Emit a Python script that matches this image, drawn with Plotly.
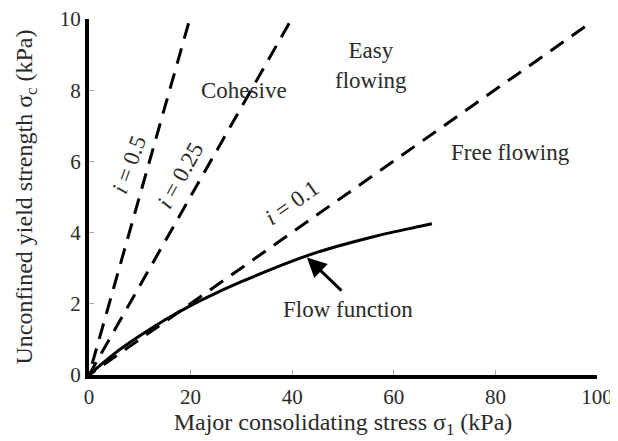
import plotly.graph_objects as go

# Flow function (solid curve)
ff_x = [0, 5, 10, 15, 20, 25, 30, 35, 40, 45, 50, 55, 60, 65, 67.5]
ff_y = [0, 0.6, 1.1, 1.55, 1.95, 2.3, 2.62, 2.92, 3.2, 3.45, 3.66, 3.85, 4.02, 4.17, 4.25]

# Flow-factor lines (dashed), drawn from the top end down to the origin
line_names = ["i = 0.5", "i = 0.25", "i = 0.1"]
line_x_end = [19.6, 39.4, 97.6]
line_y_end = [9.88, 9.88, 9.78]

# Region labels
region_text = ["Cohesive", "Easy<br>flowing", "Free flowing", "Flow function"]
region_x = [30.5, 55.5, 83, 51]
region_y = [8.0, 8.7, 6.25, 1.85]

# Rotated line labels
lab_text = ["<i>i</i> = 0.5", "<i>i</i> = 0.25", "<i>i</i> = 0.1"]
lab_x = [8.0, 18.0, 40.0]
lab_y = [5.9, 5.6, 4.85]
lab_angle = [-70, -61, -35]

x_ticks = [0, 20, 40, 60, 80, 100]
y_ticks = [0, 2, 4, 6, 8, 10]

FONT = "Liberation Serif"
TXT = "#2a2a2a"

fig = go.Figure()
for name, xe, ye in zip(line_names, line_x_end, line_y_end):
    fig.add_trace(go.Scatter(x=[xe, 0], y=[ye, 0], mode="lines", name=name,
                             line=dict(color="black", width=3, dash="16px,10px")))
fig.add_trace(go.Scatter(x=ff_x, y=ff_y, mode="lines", name="Flow function",
                         line=dict(color="black", width=3, shape="spline")))

for t, x, y in zip(region_text, region_x, region_y):
    fig.add_annotation(x=x, y=y, text=t, showarrow=False,
                       font=dict(family=FONT, size=23, color=TXT))
for t, x, y, a in zip(lab_text, lab_x, lab_y, lab_angle):
    fig.add_annotation(x=x, y=y, text=t, showarrow=False, textangle=a,
                       font=dict(family=FONT, size=23, color=TXT))

# Arrow pointing at the flow function
fig.add_annotation(x=42.9, y=3.3, ax=50, ay=2.33, axref="x", ayref="y",
                   xref="x", yref="y", text="", showarrow=True,
                   arrowhead=2, arrowsize=1.3, arrowwidth=3, arrowcolor="black")

fig.update_layout(
    width=610, height=433,
    margin=dict(l=81, r=21, t=11, b=66),
    paper_bgcolor="white", plot_bgcolor="white",
    showlegend=False,
    font=dict(family=FONT, size=21, color=TXT),
)
fig.update_xaxes(range=[0, 100], tickvals=x_ticks, showgrid=False, zeroline=False,
                 automargin=False, ticklabeloverflow="allow",
                 showline=True, linecolor="black", linewidth=4,
                 ticks="inside", ticklen=5, tickcolor="#aaaaaa", tickwidth=1,
                 tickfont=dict(family=FONT, size=21, color=TXT),
                 title=dict(text="Major consolidating stress σ<sub>1</sub> (kPa)",
                            font=dict(family=FONT, size=24, color=TXT), standoff=5))
fig.update_yaxes(range=[0, 10], tickvals=y_ticks, showgrid=False, zeroline=False,
                 automargin=False, ticklabeloverflow="allow",
                 showline=True, linecolor="black", linewidth=4,
                 ticks="inside", ticklen=5, tickcolor="#aaaaaa", tickwidth=1,
                 tickfont=dict(family=FONT, size=21, color=TXT),
                 title=dict(text="Unconfined yield strength σ<sub>c</sub> (kPa)",
                            font=dict(family=FONT, size=24, color=TXT), standoff=21))

fig.write_html("out.html")
